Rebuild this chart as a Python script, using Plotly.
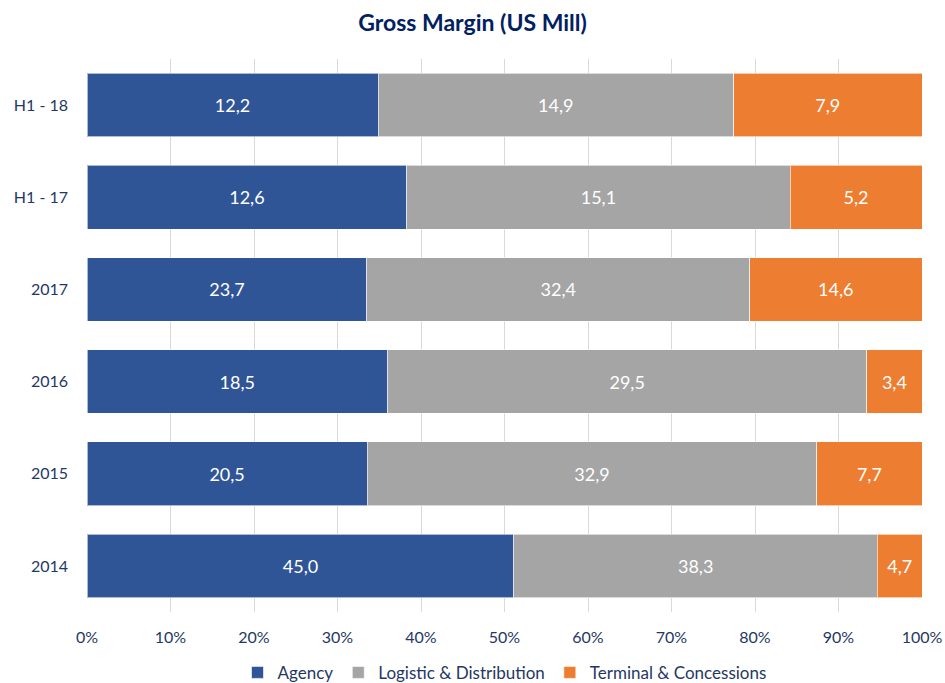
import plotly.graph_objects as go

categories = ["2014", "2015", "2016", "2017", "H1 - 17", "H1 - 18"]
agency = [45.0, 20.5, 18.5, 23.7, 12.6, 12.2]
logistic = [38.3, 32.9, 29.5, 32.4, 15.1, 14.9]
terminal = [4.7, 7.7, 3.4, 14.6, 5.2, 7.9]
tick_vals = [0, 10, 20, 30, 40, 50, 60, 70, 80, 90, 100]
tick_text = [f"{v}%" for v in tick_vals]

series = [
    ("Agency", agency, "#2F5597"),
    ("Logistic & Distribution", logistic, "#A5A5A5"),
    ("Terminal & Concessions", terminal, "#ED7D31"),
]

FONT = "Lato"
NAVY = "#1F3864"

fig = go.Figure()
for name, vals, color in series:
    fig.add_trace(go.Bar(
        y=categories, x=vals, name=name, orientation="h",
        marker=dict(color=color, line=dict(color="rgba(255,255,255,0.6)", width=1)),
        text=[f"{v:.1f}".replace(".", ",") for v in vals],
        textposition="inside", insidetextanchor="middle",
        textfont=dict(color="white", size=18, family=FONT),
        hoverinfo="skip",
    ))

fig.update_layout(
    barmode="stack", barnorm="percent", bargap=0.31,
    width=945, height=683,
    paper_bgcolor="white", plot_bgcolor="white",
    margin=dict(l=87, r=23, t=59, b=71, autoexpand=False),
    title=dict(text="<b>Gross Margin (US Mill)</b>", x=0.5, xanchor="center", y=0.966, yanchor="middle",
               font=dict(family=FONT, size=23, color="#002060")),
    font=dict(family=FONT, color=NAVY, size=16),
    legend=dict(orientation="h", x=0.5, xanchor="center", y=-0.11, yanchor="middle",
                font=dict(size=17, color=NAVY, family=FONT), traceorder="normal",
                itemwidth=30),
    xaxis=dict(range=[0, 100], tickvals=tick_vals, ticktext=tick_text, showgrid=True,
               gridcolor="#D9D9D9", gridwidth=1, zeroline=False, showline=False,
               tickfont=dict(size=16, color=NAVY), ticks="", ticklabelstandoff=14,
               automargin=False, fixedrange=True),
    yaxis=dict(categoryorder="array", categoryarray=categories, showgrid=False,
               tickfont=dict(size=16, color=NAVY), ticks="", ticklabelstandoff=18,
               automargin=False),
)

fig.write_html("out.html", config={"displayModeBar": False},
               post_script="document.body.style.margin='0';document.body.style.overflow='hidden';")
